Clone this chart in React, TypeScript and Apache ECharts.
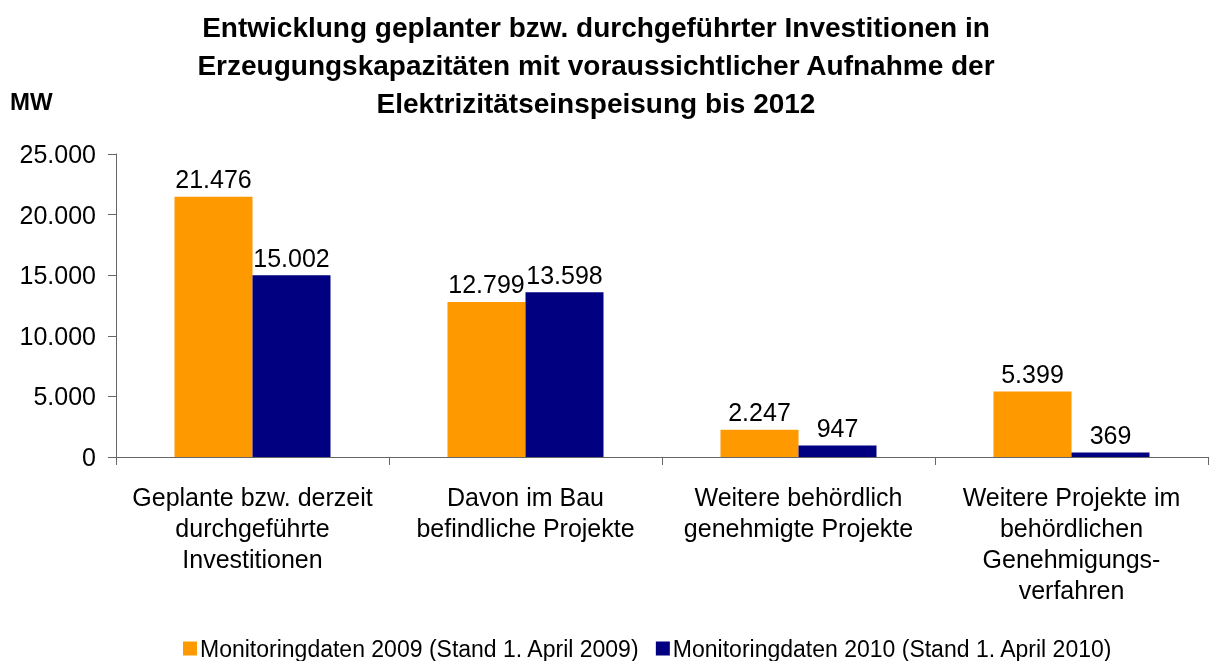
import React, { useEffect, useRef } from "react";
import * as echarts from "echarts";

const categories = [
  "Geplante bzw. derzeit\ndurchgeführte\nInvestitionen",
  "Davon im Bau\nbefindliche Projekte",
  "Weitere behördlich\ngenehmigte Projekte",
  "Weitere Projekte im\nbehördlichen\nGenehmigungs-\nverfahren",
];
const series2009 = [21476, 12799, 2247, 5399];
const series2010 = [15002, 13598, 947, 369];
const seriesNames = [
  "Monitoringdaten 2009 (Stand 1. April 2009)",
  "Monitoringdaten 2010 (Stand 1. April 2010)",
];
const titleText =
  "Entwicklung geplanter bzw. durchgeführter Investitionen in\nErzeugungskapazitäten mit voraussichtlicher Aufnahme der\nElektrizitätseinspeisung bis 2012";

const fmt = (v: number) =>
  String(Math.round(v)).replace(/\B(?=(\d{3})+(?!\d))/g, ".");

const FONT = "Liberation Sans, Arial, sans-serif";

export default function App() {
  const ref = useRef<HTMLDivElement>(null);
  useEffect(() => {
    if (!ref.current) return;
    const chart = echarts.init(ref.current, null, { renderer: "svg" });
    const label = {
      show: true,
      position: "top" as const,
      distance: 5,
      color: "#000",
      fontSize: 25,
      fontFamily: FONT,
      formatter: (p: any) => fmt(p.value),
    };
    chart.setOption({
      animation: false,
      textStyle: { fontFamily: FONT },
      title: {
        text: titleText,
        left: 591,
        textAlign: "center",
        top: 3,
        textStyle: {
          fontSize: 28,
          fontWeight: "bold",
          color: "#000",
          lineHeight: 38,
          fontFamily: FONT,
        },
      },
      graphic: [
        {
          type: "text",
          left: 10,
          top: 89,
          style: {
            text: "MW",
            fontSize: 24,
            fontWeight: "bold",
            fill: "#000",
            fontFamily: FONT,
          },
        },
      ],
      legend: {
        top: 632,
        left: 178,
        padding: [5, 5, 5, 5],
        itemWidth: 14,
        itemHeight: 14,
        itemGap: 16,
        icon: "rect",
        textStyle: { fontSize: 23, color: "#000", fontFamily: FONT, padding: [0, 0, 0, -2] },
        data: seriesNames,
      },
      grid: { left: 116, right: 11, top: 154, bottom: 204, containLabel: false },
      xAxis: {
        type: "category",
        data: categories,
        axisLine: { lineStyle: { color: "#666", width: 1 } },
        axisTick: { show: true, alignWithLabel: false, length: 8, lineStyle: { color: "#666" } },
        axisLabel: {
          interval: 0,
          color: "#000",
          fontSize: 25,
          lineHeight: 31,
          margin: 24,
          fontFamily: FONT,
        },
      },
      yAxis: {
        type: "value",
        min: 0,
        max: 25000,
        interval: 5000,
        splitLine: { show: false },
        axisLine: { show: true, lineStyle: { color: "#666", width: 1 } },
        axisTick: { show: true, length: 8, lineStyle: { color: "#666" } },
        axisLabel: {
          color: "#000",
          fontSize: 25,
          margin: 20,
          fontFamily: FONT,
          formatter: (v: number) => fmt(v),
        },
      },
      series: [
        {
          name: seriesNames[0],
          type: "bar",
          data: series2009,
          barWidth: 78,
          barGap: "0%",
          itemStyle: { color: "#FF9900" },
          label,
        },
        {
          name: seriesNames[1],
          type: "bar",
          data: series2010,
          barWidth: 78,
          barGap: "0%",
          itemStyle: { color: "#000080" },
          label,
        },
      ],
    });
    return () => chart.dispose();
  }, []);
  return (
    <div
      ref={ref}
      style={{ position: "fixed", left: 0, top: 0, width: 1219, height: 661 }}
    />
  );
}
